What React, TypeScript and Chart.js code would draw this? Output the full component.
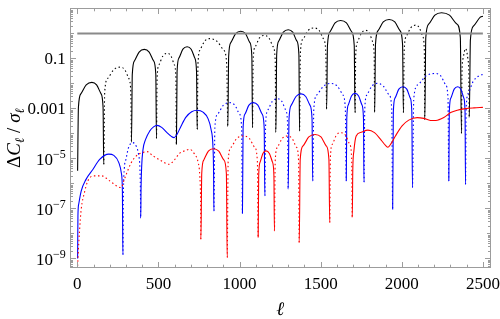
import React, { useEffect, useRef } from 'react';
import { Chart, registerables } from 'chart.js';

Chart.register(...registerables);

const xTickValues = [0, 500, 1000, 1500, 2000, 2500];
const yTickValues = [1e-9, 1e-7, 1e-5, 1e-3, 0.1];
const yTickLabels = ['10^−9', '10^−7', '10^−5', '0.001', '0.1'];
const xTitle = 'ℓ';

const refLine: [number, number][] = [[0, 1], [2500, 1]];

// [ℓ, signed value]; negative values are drawn dotted (|value| is plotted)
const blackPts: [number, number][] = [
  [2, 3.2e-6], [7, 1.1e-3], [23, 3.9e-3], [55, 8.7e-3], [90, 1.1e-2], [119, 8.7e-3], [146, 3.9e-3], [159, 1.1e-3], [163, -5.8e-6],
  [169, -4.5e-3], [188, -1.6e-2], [224, -3.5e-2], [265, -4.5e-2], [293, -3.5e-2], [317, -1.6e-2], [330, -4.5e-3], [334, 4.3e-5],
  [339, 2.3e-2], [353, 8.1e-2], [381, 0.18], [413, 0.23], [443, 0.18], [470, 8.1e-2], [484, 2.3e-2], [488, -6.3e-5],
  [492, -1.6e-2], [504, -5.6e-2], [528, -0.126], [555, -0.16], [577, -0.126], [598, -5.6e-2], [608, -1.6e-2], [611, 3.6e-5],
  [615, 2.95e-2], [627, 0.105], [651, 0.234], [677, 0.295], [702, 0.234], [724, 0.105], [735, 2.95e-2], [739, -1.45e-4],
  [744, -6.2e-2], [757, -0.219], [785, -0.49], [815, -0.62], [860, -0.49], [901, -0.219], [921, -6.2e-2], [928, 1.86e-4],
  [933, 0.123], [947, 0.437], [976, 0.977], [1008, 1.23], [1037, 0.977], [1063, 0.437], [1076, 0.123], [1080, -1.7e-4],
  [1084, -8.3e-2], [1097, -0.295], [1123, -0.66], [1152, -0.83], [1181, -0.66], [1207, -0.295], [1220, -8.3e-2], [1224, 1.12e-4],
  [1229, 0.141], [1242, 0.5], [1270, 1.12], [1300, 1.41], [1328, 1.12], [1353, 0.5], [1366, 0.141], [1370, -1.26e-4],
  [1375, -0.166], [1391, -0.589], [1423, -1.32], [1459, -1.66], [1490, -1.32], [1518, -0.589], [1532, -0.166], [1537, 9.1e-4],
  [1542, 0.331], [1558, 1.17], [1589, 2.63], [1623, 3.31], [1659, 2.63], [1691, 1.17], [1707, 0.331], [1712, -6.8e-4],
  [1716, -0.132], [1728, -0.468], [1752, -1.05], [1778, -1.32], [1800, -1.05], [1820, -0.468], [1830, -0.132], [1833, 6.8e-4],
  [1838, 0.363], [1854, 1.29], [1886, 2.88], [1922, 3.63], [1957, 2.88], [1989, 1.29], [2005, 0.363], [2010, -6.8e-4],
  [2015, -0.214], [2028, -0.759], [2056, -1.7], [2086, -2.14], [2108, -1.7], [2129, -0.759], [2139, -0.214], [2142, 3.6e-4],
  [2148, 0.676], [2167, 2.4], [2204, 5.37], [2245, 6.76], [2294, 5.37], [2339, 2.4], [2361, 0.676], [2368, -1e-4],
  [2371, -2.5e-2], [2378, -0.1], [2393, -0.25], [2407, -0.1], [2413, -2.5e-2], [2416, 4.3e-4],
  [2423, 0.56], [2443, 2.0], [2484, 4.47], [2500, 4.9],
];

const bluePts: [number, number][] = [
  [2, 1e-9], [4, 5e-8], [9, 1.5e-7], [24, 4.9e-7], [54, 1.45e-6], [96, 3.6e-6], [138, 9.1e-6], [194, 1.48e-5], [225, 1.32e-5], [256, 6.8e-6], [272, 2.5e-6], [278, 5e-7], [281, -1.4e-9],
  [284, -3e-7], [290, -4e-6], [300, -9.1e-6], [315, -2.6e-5], [340, -4.3e-5], [362, -3.2e-5], [378, -1.4e-5], [386, -4e-6], [389, -6.3e-7], [391, 4e-8],
  [393, 6.3e-7], [397, 5e-6], [405, 2.24e-5], [421, 5.75e-5], [447, 1.26e-4], [470, 1.82e-4], [492, 2.1e-4], [520, 1.74e-4], [550, 1.12e-4], [580, 7.6e-5], [597, 6.8e-5], [615, 9.3e-5], [640, 2e-4], [670, 4.5e-4], [705, 7.4e-4], [740, 8.5e-4], [775, 7.1e-4], [805, 4e-4], [825, 1.4e-4], [836, 3.2e-5], [840, 3.2e-6], [842, -7.9e-8],
  [848, -1.7e-4], [866, -6e-4], [901, -1.35e-3], [940, -1.7e-3], [971, -1.35e-3], [999, -6e-4], [1013, -1.7e-4], [1018, 6.3e-8],
  [1022, 1.7e-4], [1034, 6e-4], [1058, 1.35e-3], [1084, 1.7e-3], [1113, 1.35e-3], [1139, 6e-4], [1152, 1.7e-4], [1156, -3.2e-7],
  [1161, -2.45e-4], [1175, -8.7e-4], [1203, -1.95e-3], [1234, -2.45e-3], [1260, -1.95e-3], [1284, -8.7e-4], [1296, -2.45e-4], [1300, 5.75e-7],
  [1305, 3.8e-4], [1319, 1.35e-3], [1348, 3e-3], [1380, 3.8e-3], [1408, 3e-3], [1434, 1.35e-3], [1447, 3.8e-4], [1451, -1.26e-6],
  [1458, -1e-3], [1478, -3.55e-3], [1519, -7.9e-3], [1565, -1e-2], [1602, -7.9e-3], [1636, -3.55e-3], [1652, -1e-3], [1658, 1.26e-6],
  [1661, 4e-4], [1671, 1.41e-3], [1690, 3.16e-3], [1712, 4e-3], [1734, 3.16e-3], [1754, 1.41e-3], [1764, 4e-4], [1767, -1.12e-6],
  [1772, -1e-3], [1786, -3.55e-3], [1816, -7.9e-3], [1848, -1e-2], [1886, -7.9e-3], [1921, -3.55e-3], [1938, -1e-3], [1944, 9.1e-8],
  [1948, 7.4e-4], [1959, 2.63e-3], [1982, 5.9e-3], [2007, 7.4e-3], [2031, 5.9e-3], [2052, 2.63e-3], [2062, 7.4e-4], [2066, -6.8e-7],
  [2074, -2.5e-3], [2100, -8.9e-3], [2150, -2e-2], [2206, -2.5e-2], [2240, -2e-2], [2270, -8.9e-3], [2285, -2.5e-3], [2290, 1.26e-6],
  [2293, 7.4e-4], [2303, 2.63e-3], [2323, 5.9e-3], [2345, 7.4e-3], [2364, 5.9e-3], [2382, 2.63e-3], [2390, 7.4e-4], [2393, -9.1e-7],
  [2397, -1e-3], [2410, -4e-3], [2440, -1.2e-2], [2475, -2e-2], [2500, -2.3e-2],
];

const redPts: [number, number][] = [
  [2, -5e-10], [5, -1.3e-9], [14, -1.3e-8], [24, -9e-8], [44, -4.3e-7], [65, -1.26e-6], [100, -2e-6], [150, -2e-6], [200, -1.26e-6], [250, -7.4e-7], [270, -6.8e-7], [290, -1.45e-6], [330, -6.3e-6], [364, -1.26e-5], [400, -1.7e-5], [430, -1.86e-5], [467, -1.26e-5], [520, -7.9e-6], [565, -5.8e-6], [600, -8.9e-6], [630, -1.6e-5], [660, -2e-5], [693, -2.3e-5], [724, -1.45e-5], [745, -6.8e-6], [755, -2e-6], [760, -2e-7], [762, 5.8e-9],
  [767, 2.45e-6], [780, 8.7e-6], [808, 1.95e-5], [838, 2.45e-5], [872, 1.95e-5], [903, 8.7e-6], [919, 2.45e-6], [924, -1.07e-9],
  [930, -7.9e-6], [948, -2.8e-5], [983, -6.3e-5], [1023, -7.9e-5], [1060, -6.3e-5], [1093, -2.8e-5], [1110, -7.9e-6], [1115, 6.8e-9],
  [1118, 2e-6], [1127, 7.1e-6], [1144, 1.58e-5], [1163, 2e-5], [1184, 1.58e-5], [1203, 7.1e-6], [1212, 2e-6], [1215, -1.26e-8],
  [1220, -7.9e-6], [1234, -2.8e-5], [1263, -6.3e-5], [1295, -7.9e-5], [1324, -6.3e-5], [1351, -2.8e-5], [1364, -7.9e-6], [1368, 4.3e-9],
  [1374, 9.1e-6], [1392, 3.2e-5], [1427, 7.2e-5], [1466, 9.1e-5], [1502, 7.2e-5], [1534, 3.2e-5], [1551, 9.1e-6], [1556, -2.7e-8],
  [1560, -1.07e-5], [1573, -3.8e-5], [1597, -8.5e-5], [1625, -1.07e-4], [1653, -8.5e-5], [1678, -3.8e-5], [1691, -1.07e-5], [1695, 4.3e-8],
  [1698, 3.2e-6], [1705, 2e-5], [1719, 7.9e-5], [1750, 1.12e-4], [1791, 1.35e-4], [1832, 1.07e-4], [1873, 5.4e-5], [1900, 3.3e-5], [1915, 2.8e-5], [1935, 4e-5], [1961, 7.9e-5], [2002, 2e-4], [2043, 3.4e-4], [2095, 4.3e-4], [2136, 4e-4], [2177, 3.3e-4], [2210, 3.3e-4], [2259, 4.3e-4], [2301, 6.8e-4], [2342, 8.5e-4], [2394, 9.8e-4], [2445, 1.05e-3], [2500, 1.1e-3],
];

const SERIF = '"Liberation Serif", "Times New Roman", serif';
const FRAME = '#9c9c9c';

type Run = { t: string; font: string; dy?: number };

function drawRuns(ctx: CanvasRenderingContext2D, runs: Run[], x: number, y: number, align: 'left' | 'right' | 'center') {
  let w = 0;
  const widths = runs.map((r) => {
    ctx.font = r.font;
    const m = ctx.measureText(r.t).width;
    w += m;
    return m;
  });
  let cx = align === 'right' ? x - w : align === 'center' ? x - w / 2 : x;
  runs.forEach((r, i) => {
    ctx.font = r.font;
    ctx.fillText(r.t, cx, y + (r.dy || 0));
    cx += widths[i];
  });
}

const framePlugin = {
  id: 'mmaFrame',
  afterDraw(chart: any) {
    const { ctx, chartArea: a, scales } = chart;
    const xs = scales.x;
    const ys = scales.y;
    ctx.save();
    ctx.strokeStyle = FRAME;
    ctx.lineWidth = 1;
    const L = Math.round(a.left) + 0.5;
    const R = Math.round(a.right) - 0.5;
    const T = Math.round(a.top) + 0.5;
    const B = Math.round(a.bottom) - 0.5;
    ctx.strokeRect(L, T, R - L, B - T);

    ctx.beginPath();
    // x ticks (every 100, major every 500)
    for (let v = 0; v <= 2500; v += 100) {
      const px = Math.round(xs.getPixelForValue(v)) + 0.5;
      const len = v % 500 === 0 ? 5.5 : 2.8;
      ctx.moveTo(px, B); ctx.lineTo(px, B - len);
      ctx.moveTo(px, T); ctx.lineTo(px, T + len);
    }
    // y ticks (log)
    for (let k = -10; k <= 1; k++) {
      for (let j = 1; j <= 9; j++) {
        const v = j * Math.pow(10, k);
        if (v < ys.min || v > ys.max) continue;
        const py = Math.round(ys.getPixelForValue(v)) + 0.5;
        const major = j === 1 && yTickValues.some((t) => Math.abs(Math.log10(t) - k) < 1e-9);
        const len = major ? 5.5 : j === 1 ? 3.5 : 2.5;
        ctx.moveTo(L, py); ctx.lineTo(L + len, py);
        ctx.moveTo(R, py); ctx.lineTo(R - len, py);
      }
    }
    ctx.stroke();

    ctx.fillStyle = '#000';
    ctx.textBaseline = 'alphabetic';
    // x tick labels
    xTickValues.forEach((v) => {
      const px = xs.getPixelForValue(v);
      drawRuns(ctx, [{ t: String(v), font: `17px ${SERIF}` }], px, 289, 'center');
    });
    // y tick labels
    yTickValues.forEach((v, i) => {
      const py = ys.getPixelForValue(v);
      const lab = yTickLabels[i];
      if (lab.includes('^')) {
        const [base, exp] = lab.split('^');
        drawRuns(ctx, [
          { t: base, font: `17px ${SERIF}` },
          { t: exp, font: `12px ${SERIF}`, dy: -6.5 },
        ], 65.7, py + 6.5, 'right');
      } else {
        drawRuns(ctx, [{ t: lab, font: `17px ${SERIF}` }], 65.7, py + 5.8, 'right');
      }
    });
    // x title
    drawRuns(ctx, [{ t: xTitle, font: `italic 19px ${SERIF}` }], (a.left + a.right) / 2, 315, 'center');
    // y title
    ctx.save();
    ctx.translate(20, (a.top + a.bottom) / 2);
    ctx.rotate(-Math.PI / 2);
    drawRuns(ctx, [
      { t: 'Δ', font: `19px ${SERIF}` },
      { t: 'C', font: `italic 19px ${SERIF}` },
      { t: 'ℓ', font: `italic 13px ${SERIF}`, dy: 4 },
      { t: ' / ', font: `19px ${SERIF}` },
      { t: 'σ', font: `italic 19px ${SERIF}` },
      { t: 'ℓ', font: `italic 13px ${SERIF}`, dy: 4 },
    ], 0, 0, 'center');
    ctx.restore();
    ctx.restore();
  },
};

function series(pts: [number, number][], color: string, order: number) {
  return {
    data: pts.map(([x, v]) => ({ x, y: Math.abs(v) })),
    borderColor: color,
    borderWidth: 1.1,
    pointRadius: 0,
    fill: false,
    cubicInterpolationMode: 'monotone' as const,
    order,
    segment: {
      borderDash: (c: any) => (pts[c.p0DataIndex][1] < 0 ? [1.5, 2.6] : undefined),
    },
  };
}

export default function App() {
  const ref = useRef<HTMLCanvasElement | null>(null);
  useEffect(() => {
    if (!ref.current) return;
    const chart = new Chart(ref.current, {
      type: 'line',
      data: {
        datasets: [
          {
            data: refLine.map(([x, y]) => ({ x, y })),
            borderColor: '#8a8a8a',
            borderWidth: 2,
            pointRadius: 0,
            fill: false,
            order: 0,
          } as any,
          series(redPts, '#ff0000', 1) as any,
          series(bluePts, '#0000ff', 2) as any,
          series(blackPts, '#000000', 3) as any,
        ],
      },
      options: {
        animation: false,
        responsive: false,
        maintainAspectRatio: false,
        devicePixelRatio: 1,
        layout: { padding: { top: 8, right: 9, left: 0, bottom: 0 } },
        plugins: { legend: { display: false }, tooltip: { enabled: false } },
        scales: {
          x: {
            type: 'linear',
            min: -48,
            max: 2550,
            grid: { display: false },
            border: { display: false },
            ticks: { display: false },
            afterFit: (s: any) => { s.height = 51; },
          },
          y: {
            type: 'logarithmic',
            min: 4.13e-10,
            max: 10.4,
            grid: { display: false },
            border: { display: false },
            ticks: { display: false },
            afterFit: (s: any) => { s.width = 69.5; },
          },
        },
      },
      plugins: [framePlugin],
    });
    return () => chart.destroy();
  }, []);
  return (
    <div style={{ position: 'absolute', left: 0, top: 0, width: 500, height: 319, background: '#fff' }}>
      <canvas ref={ref} width={500} height={319} style={{ width: 500, height: 319, display: 'block' }} />
    </div>
  );
}
